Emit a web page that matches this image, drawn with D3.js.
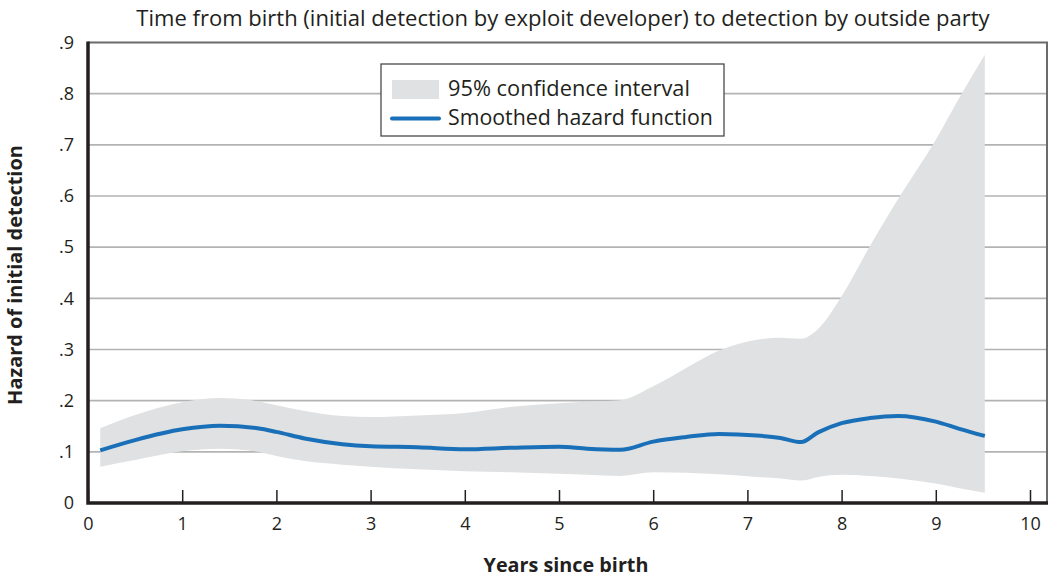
<!DOCTYPE html>
<html>
<head>
<meta charset="utf-8">
<script src="https://cdn.jsdelivr.net/npm/d3@7"></script>
<style>
  html, body { margin: 0; padding: 0; background: #fff; }
  svg { display: block; font-family: "Open Sans", "Noto Sans", sans-serif; }
</style>
</head>
<body>
<svg id="chart" width="1051" height="579"></svg>
<script>
// ---- data ----
const years  = [0.13, 0.5, 1.0, 1.4, 1.8, 2.0, 2.3, 2.7, 3.0, 3.5, 4.0, 4.5, 5.0, 5.3, 5.65, 6.0, 6.35, 6.7, 7.1, 7.35, 7.57, 7.75, 8.0, 8.3, 8.6, 9.0, 9.25, 9.52];
const hazard = [0.103, 0.123, 0.144, 0.151, 0.146, 0.139, 0.126, 0.115, 0.111, 0.109, 0.105, 0.108, 0.110, 0.106, 0.104, 0.120, 0.129, 0.135, 0.132, 0.127, 0.119, 0.138, 0.156, 0.166, 0.170, 0.159, 0.145, 0.131];
const upper  = [0.146, 0.172, 0.197, 0.205, 0.199, 0.191, 0.180, 0.170, 0.168, 0.171, 0.176, 0.188, 0.195, 0.198, 0.201, 0.228, 0.264, 0.298, 0.319, 0.323, 0.321, 0.340, 0.404, 0.502, 0.594, 0.710, 0.792, 0.876];
const lower  = [0.071, 0.084, 0.101, 0.106, 0.100, 0.092, 0.082, 0.075, 0.071, 0.066, 0.062, 0.060, 0.057, 0.055, 0.053, 0.060, 0.059, 0.056, 0.051, 0.048, 0.044, 0.051, 0.055, 0.053, 0.048, 0.038, 0.029, 0.020];
const xTicks = [0, 1, 2, 3, 4, 5, 6, 7, 8, 9, 10];
const yTicks = [0, 0.1, 0.2, 0.3, 0.4, 0.5, 0.6, 0.7, 0.8, 0.9];
const yTickLabels = ["0", ".1", ".2", ".3", ".4", ".5", ".6", ".7", ".8", ".9"];
const titleText = "Time from birth (initial detection by exploit developer) to detection by outside party";
const xTitle = "Years since birth";
const yTitle = "Hazard of initial detection";
const legendLabels = ["95% confidence interval", "Smoothed hazard function"];

// ---- layout ----
const svg = d3.select("#chart");
const pLeft = 88, pRight = 1047, pTop = 42.5, pBottom = 503;
const x = d3.scaleLinear().domain([0, 10]).range([pLeft, 1030]);
const y = d3.scaleLinear().domain([0, 0.9]).range([pBottom, pTop]);

const rows = years.map((t, i) => ({ t, h: hazard[i], lo: lower[i], hi: upper[i] }));

function fit(sel, w) {
  const node = sel.node();
  const cur = parseFloat(sel.attr("font-size"));
  const len = node.getComputedTextLength();
  if (len > 0) sel.attr("font-size", (cur * w / len).toFixed(2));
}

// gridlines
svg.append("g").selectAll("line").data(yTicks.filter(d => d > 0 && d < 0.9)).join("line")
  .attr("x1", pLeft).attr("x2", pRight)
  .attr("y1", d => y(d)).attr("y2", d => y(d))
  .attr("stroke", "#b3b3b3").attr("stroke-width", 1.6);

// band
svg.append("path").datum(rows)
  .attr("fill", "#e0e1e2")
  .attr("d", d3.area().curve(d3.curveMonotoneX)
    .x(d => x(d.t)).y0(d => y(d.lo)).y1(d => y(d.hi)));

// hazard line
svg.append("path").datum(rows)
  .attr("fill", "none").attr("stroke", "#1a70b8").attr("stroke-width", 4)
  .attr("stroke-linejoin", "round")
  .attr("d", d3.line().curve(d3.curveMonotoneX).x(d => x(d.t)).y(d => y(d.h)));

// frame top & right
svg.append("path")
  .attr("d", `M${pLeft},${pTop}H${pRight}V${pBottom}`)
  .attr("fill", "none").attr("stroke", "#6b6b6b").attr("stroke-width", 2);

// x axis ticks (inward)
const xAxis = d3.axisBottom(x).tickValues(xTicks).tickSize(-13).tickPadding(14).tickFormat(d3.format("d"));
const gx = svg.append("g").attr("transform", `translate(0,${pBottom})`).call(xAxis);
gx.select(".domain").remove();
gx.selectAll(".tick line").attr("stroke", "#231f20").attr("stroke-width", 1.5);
gx.selectAll(".tick text").attr("font-size", 18).attr("fill", "#231f20")
  .attr("font-family", "'Open Sans', sans-serif").attr("dy", "0.71em");

// y axis labels
const yAxis = d3.axisLeft(y).tickValues(yTicks).tickSize(0).tickPadding(14)
  .tickFormat((d, i) => yTickLabels[i]);
const gy = svg.append("g").attr("transform", `translate(${pLeft},0)`).call(yAxis);
gy.select(".domain").remove();
gy.selectAll(".tick text").attr("font-size", 18).attr("fill", "#231f20")
  .attr("font-family", "'Open Sans', sans-serif");

// main axis lines
svg.append("path")
  .attr("d", `M${pLeft},${pTop - 1}V${pBottom}H${pRight + 1}`)
  .attr("fill", "none").attr("stroke", "#231f20").attr("stroke-width", 3.5);

// title
const t = svg.append("text").attr("x", 563).attr("y", 26).attr("text-anchor", "middle")
  .attr("font-size", 19).attr("fill", "#231f20").text(titleText);
fit(t, 854);

// axis titles
const xt = svg.append("text").attr("x", 566).attr("y", 572).attr("text-anchor", "middle")
  .attr("font-size", 18).attr("font-weight", "bold").attr("fill", "#231f20").text(xTitle);
fit(xt, 165);
const yt = svg.append("text").attr("transform", "translate(22,275) rotate(-90)")
  .attr("text-anchor", "middle").attr("font-size", 18).attr("font-weight", "bold")
  .attr("fill", "#231f20").text(yTitle);
fit(yt, 260);

// legend
const lg = svg.append("g");
lg.append("rect").attr("x", 381).attr("y", 64).attr("width", 343).attr("height", 72)
  .attr("fill", "#fff").attr("stroke", "#4a4a4a").attr("stroke-width", 1.3);
lg.append("rect").attr("x", 392).attr("y", 80).attr("width", 47).attr("height", 19).attr("fill", "#e0e1e2");
lg.append("line").attr("x1", 392).attr("x2", 439).attr("y1", 118.5).attr("y2", 118.5)
  .attr("stroke", "#1a70b8").attr("stroke-width", 4).attr("stroke-linecap", "round");
const l1 = lg.append("text").attr("x", 448).attr("y", 96).attr("font-size", 20).attr("fill", "#231f20").text(legendLabels[0]);
const l2 = lg.append("text").attr("x", 448).attr("y", 125).attr("font-size", 20).attr("fill", "#231f20").text(legendLabels[1]);
fit(l1, 242); fit(l2, 265);
</script>
</body>
</html>
